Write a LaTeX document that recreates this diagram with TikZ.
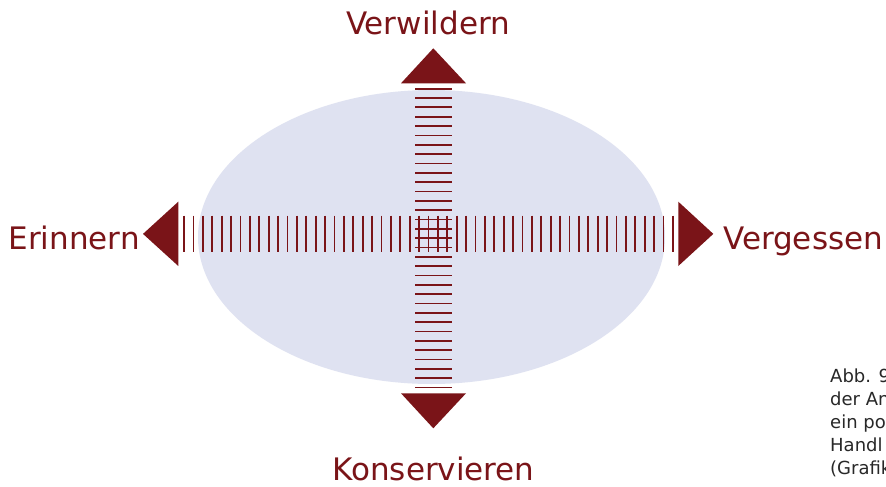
\documentclass[tikz,border=0pt]{standalone}
\usepackage{fontspec}
\setmainfont{DejaVu Sans}
\definecolor{wine}{RGB}{122,20,24}
\definecolor{lavender}{RGB}{223,226,241}
\definecolor{captiongray}{RGB}{40,40,40}
\tikzset{
  axislabel/.style={text=wine, font=\fontsize{31}{36}\selectfont, inner sep=0pt, anchor=base},
  hatch/.style={draw=wine, line width=1.8pt},
  tip/.style={fill=wine, draw=none},
  captionline/.style={text=captiongray, font=\fontsize{18}{22}\selectfont, inner sep=0pt, anchor=base west}
}
\begin{document}
\begin{tikzpicture}[x=1pt, y=-1pt]
  \clip (0,0) rectangle (886,487);
  \fill[white] (0,0) rectangle (886,487);

  % field of possibilities
  \fill[lavender] (431.5,237) ellipse [x radius=233.5, y radius=147];

  % horizontal axis: row of vertical strokes
  \foreach \k in {0,...,52}
    \draw[hatch] ({184+9.4*\k},215.7) -- ({184+9.4*\k},252);

  % vertical axis: column of horizontal strokes
  \foreach \k in {0,...,32}
    \draw[hatch] (415,{88.7+9.34*\k}) -- (451.7,{88.7+9.34*\k});

  % arrow heads
  \fill[tip] (401,83.3) -- (466,83.3) -- (433.3,48.3) -- cycle;
  \fill[tip] (401,393.3) -- (466,393.3) -- (433.3,428.3) -- cycle;
  \fill[tip] (178.3,201.7) -- (178.3,266) -- (143,233.9) -- cycle;
  \fill[tip] (678.3,201.7) -- (678.3,266) -- (713.3,233.9) -- cycle;

  % axis labels
  \node[axislabel] (wild) at (428,35) {Verwildern};
  \node[axislabel] (keep) at (433.5,480.5) {Konservieren};
  \node[axislabel, anchor=base east] (remember) at (140,249) {Erinnern};
  \node[axislabel, anchor=base west] (forget) at (723,249) {Vergessen};

  % caption
  \node[captionline] (cap1) at (830,382) {Abb. 9};
  \node[captionline] (cap2) at (830,405) {der An};
  \node[captionline] (cap3) at (830,428) {ein po};
  \node[captionline] (cap4) at (830,451) {Handl};
  \node[captionline] (cap5) at (830,474) {(Grafik};
\end{tikzpicture}
\end{document}
